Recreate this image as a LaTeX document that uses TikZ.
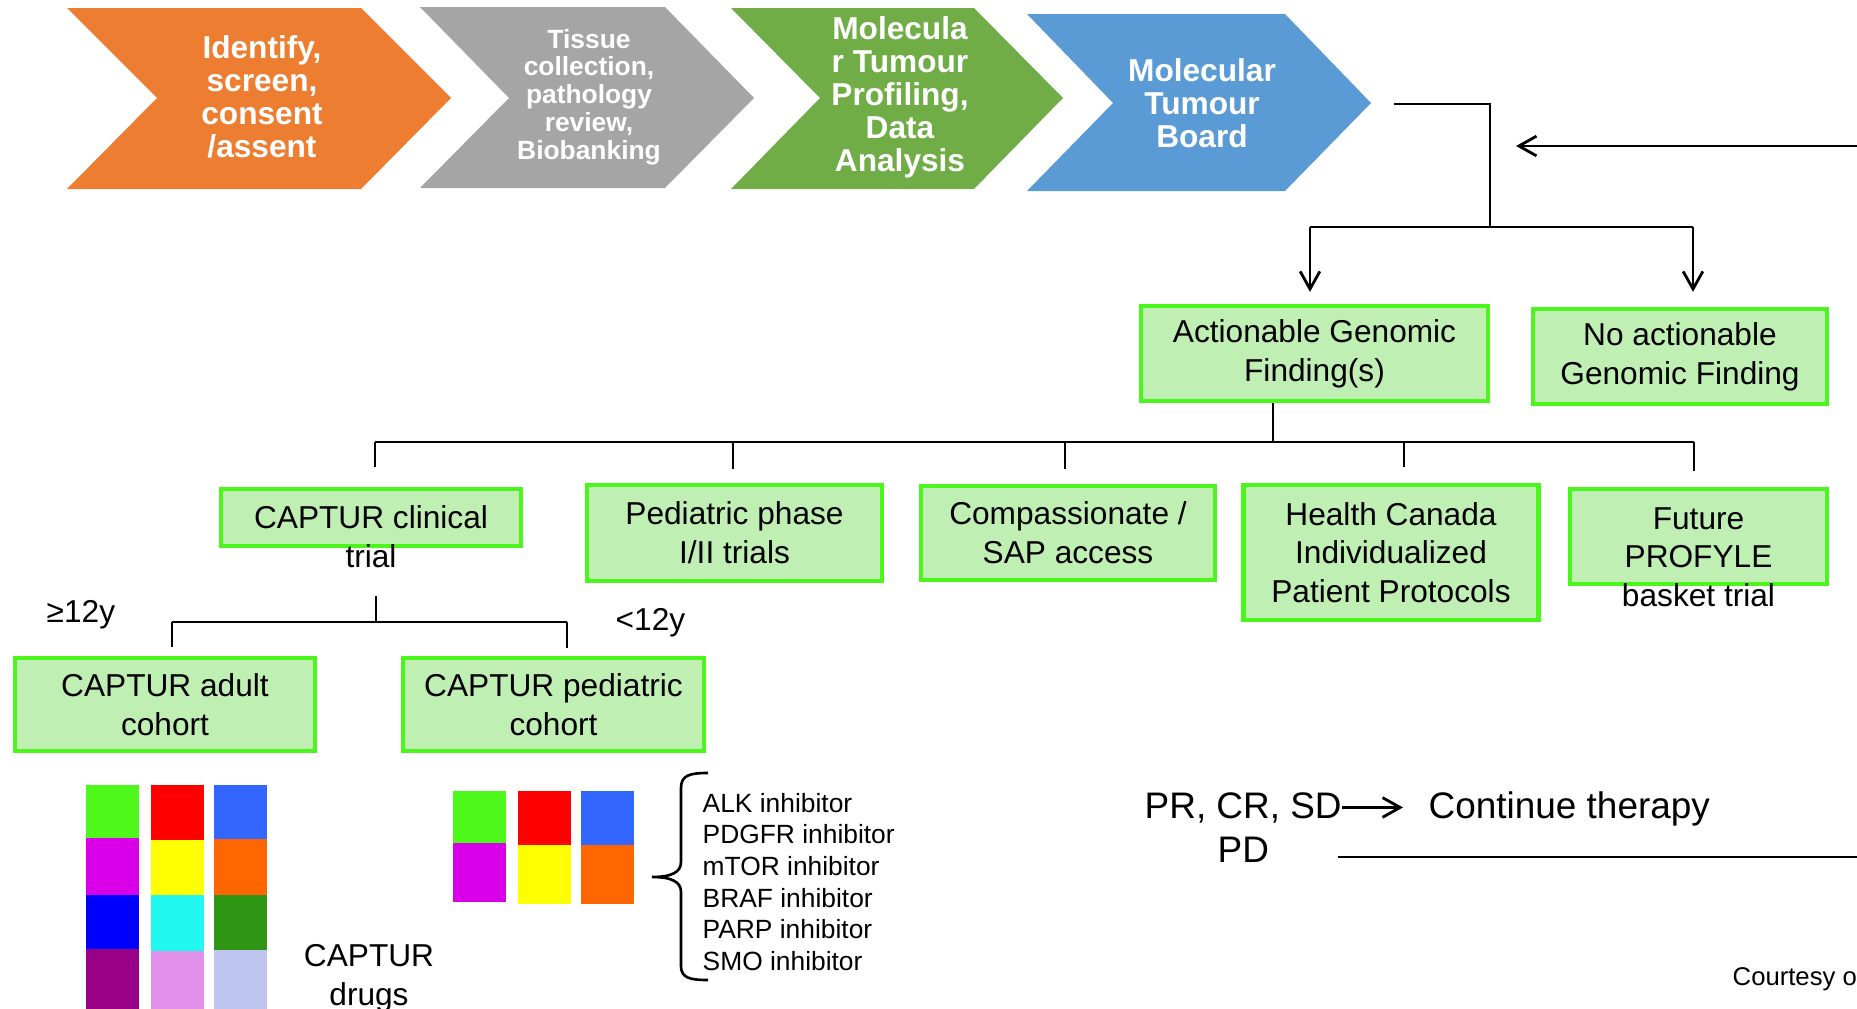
\documentclass[tikz,border=0pt]{standalone}
\usepackage{fontspec}
\setmainfont{Liberation Sans}
\usepackage{tikz}
\usetikzlibrary{arrows.meta,calc}
\usepackage{xcolor}

\definecolor{chevorange}{HTML}{ED7D31}
\definecolor{chevgray}{HTML}{A5A5A5}
\definecolor{chevgreen}{HTML}{70AD47}
\definecolor{chevblue}{HTML}{5B9BD5}
\definecolor{boxedge}{RGB}{76,245,28}
\definecolor{boxfill}{RGB}{192,239,179}
\definecolor{sqgreen}{RGB}{78,248,26}
\definecolor{sqred}{RGB}{255,0,0}
\definecolor{sqblue}{RGB}{51,102,255}
\definecolor{sqmagenta}{RGB}{217,0,233}
\definecolor{sqyellow}{RGB}{255,255,0}
\definecolor{sqorange}{RGB}{255,102,0}
\definecolor{sqdeepblue}{RGB}{0,0,255}
\definecolor{sqcyan}{RGB}{32,248,240}
\definecolor{sqdkgreen}{RGB}{46,150,20}
\definecolor{sqpurple}{RGB}{153,0,136}
\definecolor{sqpink}{RGB}{224,144,232}
\definecolor{sqlavender}{RGB}{190,198,240}

\begin{document}
\begin{tikzpicture}[
	x=0.01cm,
	y=-0.01cm,
	font=\fontsize{9}{11}\selectfont,
	chevtext/.style={text=white,align=center,inner sep=0pt,font=\bfseries\fontsize{9}{9.4}\selectfont},
	findbox/.style={draw=boxedge,fill=boxfill,line width=1.2pt,inner sep=0pt,align=center,minimum height=0.95cm},
	boxtext/.style={align=center,inner sep=0pt},
	agelabel/.style={anchor=base west,inner sep=0pt},
	outcome/.style={anchor=base west,inner sep=0pt,font=\fontsize{10.5}{12.6}\selectfont},
	link/.style={draw=black,line width=0.8pt},
	flow/.style={link,-{Straight Barb[length=5pt,width=5.6pt]}}
	]
	\useasboundingbox (0,0) rectangle (1857,1009);
	
	% Process chevrons
	\fill[chevorange] (67,8) -- (361,8) -- (451,98) -- (361,189) -- (67,189) -- (157,98) -- cycle;
	\fill[chevgray] (420,7) -- (665,7) -- (754,98) -- (665,188) -- (420,188) -- (509,98) -- cycle;
	\fill[chevgreen] (731,8) -- (974,8) -- (1063,98) -- (974,189) -- (731,189) -- (820,98) -- cycle;
	\fill[chevblue] (1027,14) -- (1285,14) -- (1371,103) -- (1285,191) -- (1027,191) -- (1113,103) -- cycle;
	
	\node[chevtext] (identify) at (262,97) {Identify,\\screen,\\consent\\/assent};
	\node[chevtext,font=\bfseries\fontsize{7.5}{7.9}\selectfont] (tissue) at (589,97) {Tissue\\collection,\\pathology\\review,\\Biobanking};
	\node[chevtext] (profiling) at (900,97) {Molecula\\r Tumour\\Profiling,\\Data\\Analysis};
	\node[chevtext] (board) at (1202,103) {Molecular\\Tumour\\Board};
	
	% Findings
	\node[findbox,minimum width=3.47cm] (actionable) at (1314.5,353.5) {Actionable Genomic\\Finding(s)};
	\node[findbox,minimum width=2.94cm] (noaction) at (1680,356.5) {No actionable\\Genomic Finding};
	
	% Options
	\node[findbox,minimum width=3.00cm,minimum height=0.57cm] (captur) at (371,517.5) {};
	\node[boxtext] (capturtext) at (371,536.5) {CAPTUR clinical\\trial};
	\node[findbox,minimum width=2.95cm,minimum height=0.96cm] (pedphase) at (734.5,533) {Pediatric phase\\I/II trials};
	\node[findbox,minimum width=2.94cm,minimum height=0.94cm] (compass) at (1068,533) {Compassionate /\\SAP access};
	\node[findbox,minimum width=2.95cm,minimum height=1.35cm] (hcanada) at (1391,552.5) {Health Canada\\Individualized\\Patient Protocols};
	\node[findbox,minimum width=2.57cm] (future) at (1698.5,536.5) {};
	\node[boxtext] (futuretext) at (1698.5,557) {Future\\PROFYLE\\basket trial};
	
	% Cohorts
	\node[findbox,minimum width=3.00cm,minimum height=0.93cm] (adult) at (165,704.5) {CAPTUR adult\\cohort};
	\node[findbox,minimum width=3.01cm,minimum height=0.93cm] (pedcohort) at (553.5,704.5) {CAPTUR pediatric\\cohort};
	\node[agelabel] (older) at (46,622) {≥12y};
	\node[agelabel] (younger) at (615,630) {<12y};
	
	% Board to findings
	\coordinate (boardout) at (1394,104);
	\coordinate (boardjoin) at (1490,104);
	\coordinate (findsplit) at (1490,227);
	\coordinate (actin) at (1310,227);
	\coordinate (noactin) at (1693,227);
	\draw[link] (boardout) -- (boardjoin) -- (findsplit);
	\draw[link] (actin) -- (noactin);
	\draw[flow,shorten >=0.12cm] (actin) -- (actin |- actionable.north);
	\draw[flow,shorten >=0.15cm] (noactin) -- (noactin |- noaction.north);
	
	% Actionable finding to options
	\coordinate (optjoin) at (1273,442);
	\coordinate (optleft) at (375,442);
	\coordinate (optright) at (1694,442);
	\draw[link] (actionable.south -| optjoin) -- (optjoin);
	\draw[link] (optleft) -- (optright);
	\foreach \x/\target/\gap in {375/captur/0.20cm,733/pedphase/0.14cm,1065/compass/0.15cm,1404/hcanada/0.16cm,1694/future/0.16cm} {
		\draw[link,shorten >=\gap] (\x,442) coordinate (drop) -- (drop |- \target.north);
	}
	
	% CAPTUR trial to cohorts
	\coordinate (cohortjoin) at (376,622);
	\coordinate (adultjoin) at (172,622);
	\coordinate (pedjoin) at (567,622);
	\draw[link,shorten <=0.28cm] (cohortjoin |- capturtext.south) -- (cohortjoin);
	\draw[link] (adultjoin) -- (pedjoin);
	\draw[link,shorten >=0.09cm] (adultjoin) -- (adultjoin |- adult.north);
	\draw[link,shorten >=0.08cm] (pedjoin) -- (pedjoin |- pedcohort.north);
	
	% Drug squares
	\foreach \x/\ya/\yb/\c in {86/785/838/sqgreen,86/838/895/sqmagenta,86/895/949/sqdeepblue,86/949/1009/sqpurple,
		151/785/840/sqred,151/840/895/sqyellow,151/895/951/sqcyan,151/951/1009/sqpink,
		214/785/839/sqblue,214/839/895/sqorange,214/895/950/sqdkgreen,214/950/1009/sqlavender} {
		\fill[\c] (\x,\ya) rectangle (\x+53,\yb);
	}
	\foreach \x/\ya/\yb/\c in {453/791/843/sqgreen,453/843/902/sqmagenta,
		518/791/845/sqred,518/845/904/sqyellow,
		581/791/845/sqblue,581/845/904/sqorange} {
		\fill[\c] (\x,\ya) rectangle (\x+53,\yb);
	}
	\node[boxtext] (drugs) at (369,978) {CAPTUR\\drugs};
	
	% Brace
	\draw[link,line width=0.75pt] (708,773) .. controls (690,773) and (681,775) .. (681,788) -- (681,862)
		.. controls (681,872) and (672,877) .. (652,877)
		.. controls (672,877) and (681,882) .. (681,892) -- (681,966)
		.. controls (681,978) and (690,980) .. (708,980);
	\node[anchor=west,align=left,inner sep=0pt,font=\fontsize{7.5}{9}\selectfont] (inhibitors) at (702,882) {ALK inhibitor\\PDGFR inhibitor\\mTOR inhibitor\\BRAF inhibitor\\PARP inhibitor\\SMO inhibitor};
	
	% Response
	\node[outcome] (respond) at (1144,818) {PR, CR, SD};
	\node[outcome] (continue) at (1428,818) {Continue therapy};
	\node[outcome] (progress) at (1217,862) {PD};
	\draw[flow,shorten >=0.25cm] (respond.east) -- (respond.east -| continue.west);
	\coordinate (pdexit) at (1857,857);
	\coordinate (loopin) at (1857,146);
	\draw[link,shorten >=0.68cm] (pdexit) -- (pdexit -| progress.east);
	\draw[flow,shorten >=0.26cm] (loopin) -- (loopin -| boardjoin);
	
	\node[anchor=base west,inner sep=0pt,font=\fontsize{7.3}{9}\selectfont] (courtesy) at (1732,985) {Courtesy o};
\end{tikzpicture}
\end{document}
